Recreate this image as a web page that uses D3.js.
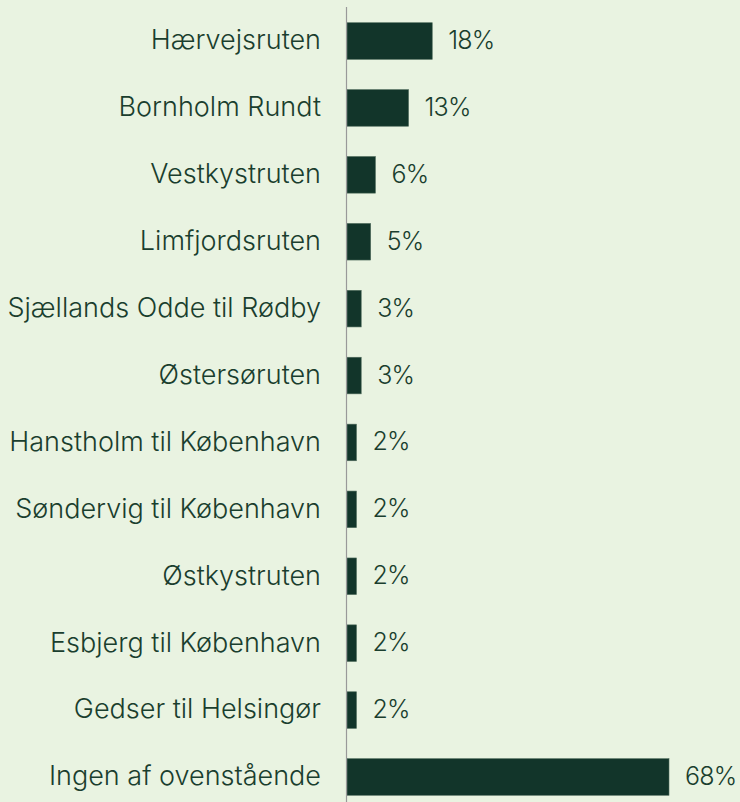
<!DOCTYPE html>
<html><head><meta charset="utf-8">
<script src="https://cdn.jsdelivr.net/npm/d3@7"></script>
<style>
html,body{margin:0;padding:0;background:#e9f3e1;}
svg{display:block;}
</style></head>
<body>
<script>
const categories = ["Hærvejsruten","Bornholm Rundt","Vestkystruten","Limfjordsruten","Sjællands Odde til Rødby","Østersøruten","Hanstholm til København","Søndervig til København","Østkystruten","Esbjerg til København","Gedser til Helsingør","Ingen af ovenstående"];
const values = [18,13,6,5,3,3,2,2,2,2,2,68];
const valueLabels = ["18%","13%","6%","5%","3%","3%","2%","2%","2%","2%","2%","68%"];

const W = 740, H = 802;
const svg = d3.select("body").append("svg").attr("width", W).attr("height", H);
svg.append("rect").attr("width", W).attr("height", H).attr("fill", "#e9f3e1");

const x = d3.scaleLinear().domain([0, 68]).range([347, 669]);
const y = d3.scaleBand().domain(categories).range([7, 811]).paddingInner(0.453).paddingOuter(0.235);

const font = "Inter, 'DejaVu Sans', sans-serif";
const textColor = "#1a3e2e";

svg.selectAll("rect.bar").data(categories).join("rect")
  .attr("class", "bar")
  .attr("x", x(0))
  .attr("y", d => y(d))
  .attr("width", (d, i) => x(values[i]) - x(0))
  .attr("height", y.bandwidth())
  .attr("fill", "#12352a")
  .attr("stroke", "#4f6b5c")
  .attr("stroke-width", 0.6);

svg.append("line").attr("x1", 346.5).attr("x2", 346.5).attr("y1", 7).attr("y2", H)
  .attr("stroke", "#999999").attr("stroke-width", 1.2);

svg.selectAll("text.cat").data(categories).join("text")
  .attr("class", "cat")
  .attr("x", 321)
  .attr("y", d => y(d) + y.bandwidth() / 2)
  .attr("dy", "0.31em")
  .attr("text-anchor", "end")
  .attr("font-family", font)
  .attr("font-size", 27)
  .attr("font-weight", 300)
  .attr("fill", textColor)
  .text(d => d);

svg.selectAll("text.val").data(categories).join("text")
  .attr("class", "val")
  .attr("x", (d, i) => x(values[i]) + 16)
  .attr("y", d => y(d) + y.bandwidth() / 2)
  .attr("dy", "0.32em")
  .attr("font-family", font)
  .attr("font-size", 25)
  .attr("font-weight", 300)
  .attr("letter-spacing", -0.8)
  .attr("fill", textColor)
  .text((d, i) => valueLabels[i]);
</script>
</body></html>
